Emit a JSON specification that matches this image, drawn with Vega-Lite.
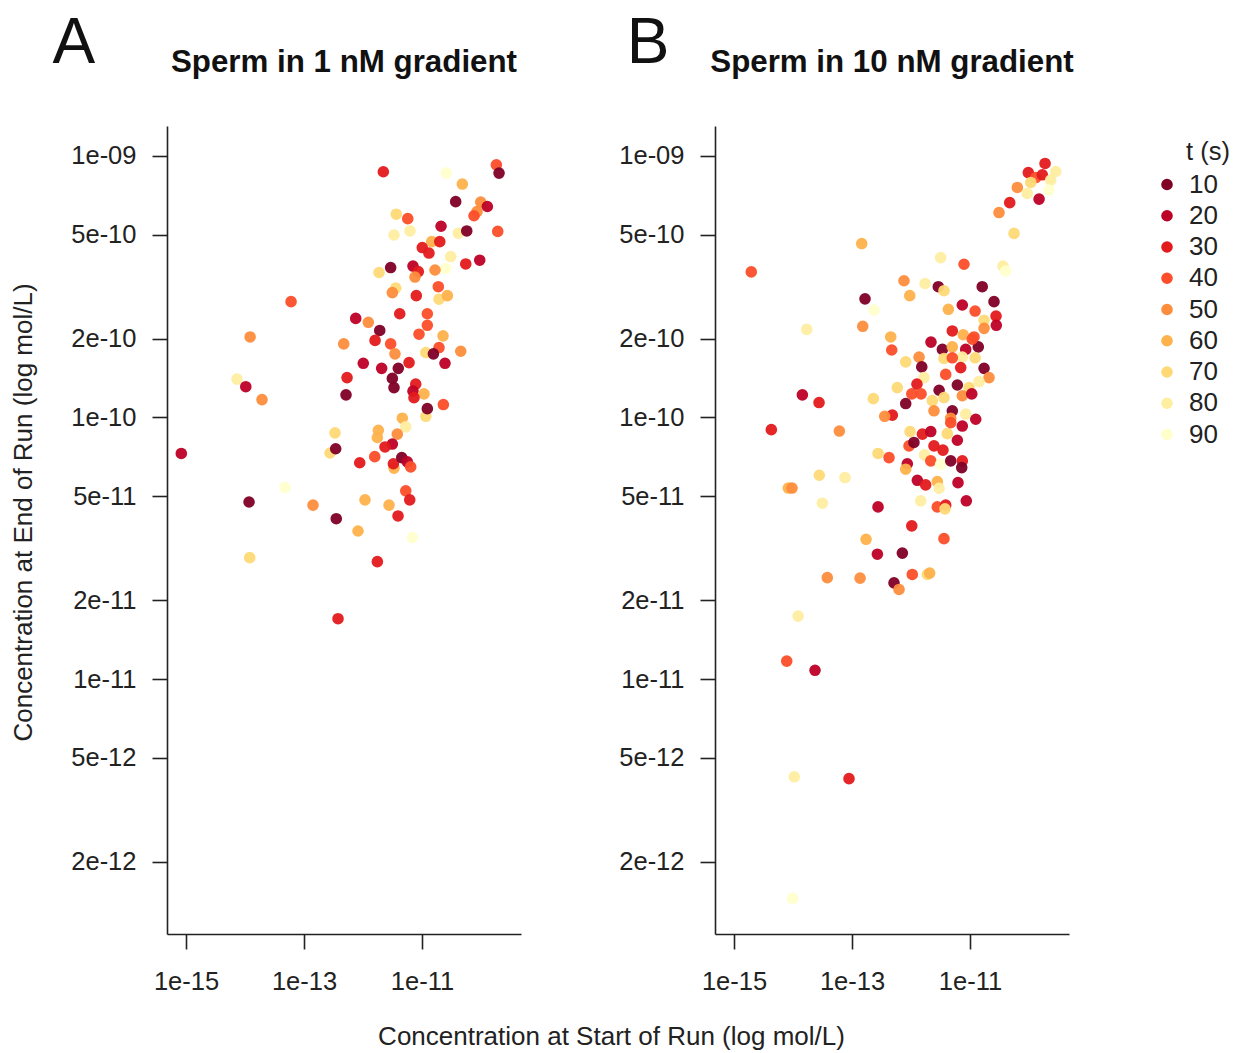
{
  "$schema": "https://vega.github.io/schema/vega-lite/v6.json",
  "background": "white",
  "padding": {"left": 10, "top": 11, "right": 5, "bottom": 5},
  "config": {
    "font": "Liberation Sans",
    "view": {"stroke": null},
    "axis": {"domainColor": "#222", "domainWidth": 1.6, "tickColor": "#222", "tickWidth": 1.6, "tickSize": 15, "labelColor": "#222", "titleColor": "#222", "labelFontSize": 25.5, "titleFontSize": 26, "titleFontWeight": "normal", "grid": false, "labelFlush": false, "labelOverlap": false},
    "title": {"fontSize": 31.3, "fontWeight": "bold", "color": "#111"}
  },
  "datasets": {
    "pts": [
      {"panel":"A","start":6.03e-14,"end":2.77e-10,"t":40},
      {"panel":"A","start":1.22e-14,"end":2.03e-10,"t":50},
      {"panel":"A","start":4.71e-13,"end":1.91e-10,"t":50},
      {"panel":"A","start":7.31e-15,"end":1.40e-10,"t":80},
      {"panel":"A","start":1.03e-14,"end":1.31e-10,"t":20},
      {"panel":"A","start":1.94e-14,"end":1.17e-10,"t":50},
      {"panel":"A","start":5.36e-13,"end":1.42e-10,"t":30},
      {"panel":"A","start":5.15e-13,"end":1.22e-10,"t":10},
      {"panel":"A","start":8.32e-16,"end":7.28e-11,"t":20},
      {"panel":"A","start":3.35e-13,"end":8.73e-11,"t":70},
      {"panel":"A","start":2.76e-13,"end":7.31e-11,"t":70},
      {"panel":"A","start":3.44e-13,"end":7.59e-11,"t":10},
      {"panel":"A","start":4.76e-14,"end":5.40e-11,"t":90},
      {"panel":"A","start":1.17e-14,"end":4.75e-11,"t":10},
      {"panel":"A","start":1.42e-13,"end":4.62e-11,"t":50},
      {"panel":"A","start":3.52e-13,"end":4.10e-11,"t":10},
      {"panel":"A","start":1.20e-14,"end":2.91e-11,"t":70},
      {"panel":"A","start":3.77e-13,"end":1.70e-11,"t":30},
      {"panel":"A","start":2.21e-12,"end":8.69e-10,"t":30},
      {"panel":"A","start":2.58e-11,"end":8.59e-10,"t":90},
      {"panel":"A","start":4.82e-11,"end":7.80e-10,"t":60},
      {"panel":"A","start":1.82e-10,"end":9.24e-10,"t":40},
      {"panel":"A","start":2.02e-10,"end":8.59e-10,"t":10},
      {"panel":"A","start":3.72e-11,"end":6.68e-10,"t":10},
      {"panel":"A","start":9.89e-11,"end":6.65e-10,"t":50},
      {"panel":"A","start":1.28e-10,"end":6.40e-10,"t":20},
      {"panel":"A","start":8.55e-11,"end":6.12e-10,"t":50},
      {"panel":"A","start":7.60e-11,"end":5.90e-10,"t":40},
      {"panel":"A","start":3.66e-12,"end":5.98e-10,"t":70},
      {"panel":"A","start":5.73e-12,"end":5.75e-10,"t":40},
      {"panel":"A","start":2.10e-11,"end":5.38e-10,"t":20},
      {"panel":"A","start":1.92e-10,"end":5.14e-10,"t":40},
      {"panel":"A","start":3.35e-12,"end":4.98e-10,"t":80},
      {"panel":"A","start":6.26e-12,"end":5.16e-10,"t":80},
      {"panel":"A","start":4.12e-11,"end":5.06e-10,"t":80},
      {"panel":"A","start":5.73e-11,"end":5.16e-10,"t":10},
      {"panel":"A","start":1.46e-11,"end":4.70e-10,"t":60},
      {"panel":"A","start":2.00e-11,"end":4.70e-10,"t":30},
      {"panel":"A","start":1.01e-11,"end":4.46e-10,"t":30},
      {"panel":"A","start":1.31e-11,"end":4.25e-10,"t":30},
      {"panel":"A","start":3.06e-11,"end":4.12e-10,"t":80},
      {"panel":"A","start":2.52e-11,"end":3.71e-10,"t":90},
      {"panel":"A","start":5.51e-11,"end":3.86e-10,"t":30},
      {"panel":"A","start":9.51e-11,"end":3.99e-10,"t":20},
      {"panel":"A","start":1.87e-12,"end":3.58e-10,"t":70},
      {"panel":"A","start":2.94e-12,"end":3.74e-10,"t":10},
      {"panel":"A","start":7.03e-12,"end":3.79e-10,"t":20},
      {"panel":"A","start":8.65e-12,"end":3.61e-10,"t":30},
      {"panel":"A","start":7.60e-12,"end":3.44e-10,"t":50},
      {"panel":"A","start":1.66e-11,"end":3.66e-10,"t":50},
      {"panel":"A","start":1.89e-11,"end":3.16e-10,"t":40},
      {"panel":"A","start":3.58e-12,"end":3.12e-10,"t":70},
      {"panel":"A","start":3.14e-12,"end":3.00e-10,"t":50},
      {"panel":"A","start":8.00e-12,"end":2.92e-10,"t":30},
      {"panel":"A","start":1.94e-11,"end":2.83e-10,"t":70},
      {"panel":"A","start":2.69e-11,"end":2.92e-10,"t":60},
      {"panel":"A","start":4.19e-12,"end":2.49e-10,"t":30},
      {"panel":"A","start":1.23e-11,"end":2.49e-10,"t":40},
      {"panel":"A","start":7.52e-13,"end":2.39e-10,"t":20},
      {"panel":"A","start":1.23e-12,"end":2.31e-10,"t":50},
      {"panel":"A","start":1.92e-12,"end":2.15e-10,"t":10},
      {"panel":"A","start":1.60e-12,"end":1.97e-10,"t":30},
      {"panel":"A","start":1.23e-11,"end":2.25e-10,"t":40},
      {"panel":"A","start":8.89e-12,"end":2.08e-10,"t":40},
      {"panel":"A","start":2.94e-12,"end":1.91e-10,"t":40},
      {"panel":"A","start":3.48e-12,"end":1.75e-10,"t":50},
      {"panel":"A","start":2.27e-11,"end":2.05e-10,"t":60},
      {"panel":"A","start":1.94e-11,"end":1.85e-10,"t":40},
      {"panel":"A","start":1.16e-11,"end":1.77e-10,"t":70},
      {"panel":"A","start":1.56e-11,"end":1.75e-10,"t":10},
      {"panel":"A","start":4.53e-11,"end":1.79e-10,"t":50},
      {"panel":"A","start":2.45e-11,"end":1.61e-10,"t":20},
      {"panel":"A","start":6.03e-12,"end":1.62e-10,"t":30},
      {"panel":"A","start":3.96e-12,"end":1.54e-10,"t":10},
      {"panel":"A","start":1.01e-12,"end":1.61e-10,"t":20},
      {"panel":"A","start":2.07e-12,"end":1.54e-10,"t":20},
      {"panel":"A","start":3.14e-12,"end":1.41e-10,"t":10},
      {"panel":"A","start":3.35e-12,"end":1.30e-10,"t":10},
      {"panel":"A","start":7.82e-12,"end":1.34e-10,"t":30},
      {"panel":"A","start":7.03e-12,"end":1.26e-10,"t":20},
      {"panel":"A","start":1.08e-11,"end":1.23e-10,"t":60},
      {"panel":"A","start":7.31e-12,"end":1.19e-10,"t":30},
      {"panel":"A","start":2.30e-11,"end":1.12e-10,"t":40},
      {"panel":"A","start":1.16e-11,"end":1.01e-10,"t":70},
      {"panel":"A","start":1.23e-11,"end":1.08e-10,"t":10},
      {"panel":"A","start":4.63e-12,"end":9.93e-11,"t":60},
      {"panel":"A","start":5.30e-12,"end":9.20e-11,"t":80},
      {"panel":"A","start":1.82e-12,"end":8.93e-11,"t":60},
      {"panel":"A","start":1.75e-12,"end":8.38e-11,"t":60},
      {"panel":"A","start":3.81e-12,"end":8.63e-11,"t":50},
      {"panel":"A","start":3.14e-12,"end":7.91e-11,"t":20},
      {"panel":"A","start":2.36e-12,"end":7.71e-11,"t":30},
      {"panel":"A","start":1.58e-12,"end":7.08e-11,"t":40},
      {"panel":"A","start":8.79e-13,"end":6.71e-11,"t":30},
      {"panel":"A","start":3.35e-12,"end":6.40e-11,"t":60},
      {"panel":"A","start":3.27e-12,"end":6.65e-11,"t":30},
      {"panel":"A","start":4.53e-12,"end":7.02e-11,"t":10},
      {"panel":"A","start":5.64e-12,"end":6.76e-11,"t":20},
      {"panel":"A","start":6.43e-12,"end":6.47e-11,"t":40},
      {"panel":"A","start":5.30e-12,"end":5.24e-11,"t":40},
      {"panel":"A","start":6.19e-12,"end":4.84e-11,"t":30},
      {"panel":"A","start":1.08e-12,"end":4.84e-11,"t":60},
      {"panel":"A","start":2.76e-12,"end":4.62e-11,"t":60},
      {"panel":"A","start":3.92e-12,"end":4.20e-11,"t":30},
      {"panel":"A","start":8.22e-13,"end":3.68e-11,"t":60},
      {"panel":"A","start":6.85e-12,"end":3.47e-11,"t":90},
      {"panel":"A","start":1.75e-12,"end":2.81e-11,"t":30},
      {"panel":"B","start":1.46e-13,"end":4.62e-10,"t":60},
      {"panel":"B","start":1.96e-15,"end":3.60e-10,"t":40},
      {"panel":"B","start":1.66e-13,"end":2.84e-10,"t":10},
      {"panel":"B","start":2.36e-13,"end":2.57e-10,"t":90},
      {"panel":"B","start":1.52e-13,"end":2.23e-10,"t":50},
      {"panel":"B","start":1.71e-14,"end":2.17e-10,"t":80},
      {"panel":"B","start":1.44e-14,"end":1.22e-10,"t":20},
      {"panel":"B","start":2.76e-14,"end":1.14e-10,"t":30},
      {"panel":"B","start":4.29e-15,"end":8.98e-11,"t":30},
      {"panel":"B","start":6.10e-14,"end":8.87e-11,"t":50},
      {"panel":"B","start":2.30e-13,"end":1.18e-10,"t":70},
      {"panel":"B","start":2.76e-13,"end":7.28e-11,"t":70},
      {"panel":"B","start":2.79e-14,"end":6.01e-11,"t":70},
      {"panel":"B","start":7.60e-14,"end":5.89e-11,"t":80},
      {"panel":"B","start":8.32e-15,"end":5.37e-11,"t":60},
      {"panel":"B","start":9.62e-15,"end":5.37e-11,"t":50},
      {"panel":"B","start":3.14e-14,"end":4.70e-11,"t":80},
      {"panel":"B","start":2.76e-13,"end":4.55e-11,"t":20},
      {"panel":"B","start":1.73e-13,"end":3.42e-11,"t":60},
      {"panel":"B","start":2.69e-13,"end":3.00e-11,"t":20},
      {"panel":"B","start":3.81e-14,"end":2.44e-11,"t":50},
      {"panel":"B","start":1.37e-13,"end":2.43e-11,"t":50},
      {"panel":"B","start":1.22e-14,"end":1.74e-11,"t":80},
      {"panel":"B","start":7.82e-15,"end":1.17e-11,"t":40},
      {"panel":"B","start":2.36e-14,"end":1.08e-11,"t":20},
      {"panel":"B","start":1.05e-14,"end":4.23e-12,"t":80},
      {"panel":"B","start":8.89e-14,"end":4.16e-12,"t":30},
      {"panel":"B","start":9.89e-15,"end":1.45e-12,"t":90},
      {"panel":"B","start":7.60e-13,"end":3.33e-10,"t":50},
      {"panel":"B","start":1.73e-12,"end":3.25e-10,"t":80},
      {"panel":"B","start":9.51e-13,"end":2.92e-10,"t":60},
      {"panel":"B","start":4.53e-13,"end":2.03e-10,"t":60},
      {"panel":"B","start":4.71e-13,"end":1.81e-10,"t":40},
      {"panel":"B","start":8.13e-13,"end":1.63e-10,"t":70},
      {"panel":"B","start":1.37e-12,"end":1.70e-10,"t":50},
      {"panel":"B","start":1.52e-12,"end":1.56e-10,"t":10},
      {"panel":"B","start":2.18e-12,"end":1.94e-10,"t":20},
      {"panel":"B","start":5.86e-13,"end":1.30e-10,"t":70},
      {"panel":"B","start":1.03e-12,"end":1.23e-10,"t":40},
      {"panel":"B","start":8.13e-13,"end":1.13e-10,"t":10},
      {"panel":"B","start":4.82e-13,"end":1.02e-10,"t":30},
      {"panel":"B","start":3.58e-13,"end":1.01e-10,"t":50},
      {"panel":"B","start":1.66e-12,"end":1.42e-10,"t":80},
      {"panel":"B","start":1.26e-12,"end":1.34e-10,"t":30},
      {"panel":"B","start":1.48e-12,"end":1.23e-10,"t":40},
      {"panel":"B","start":3.18e-12,"end":4.08e-10,"t":80},
      {"panel":"B","start":7.91e-12,"end":3.85e-10,"t":40},
      {"panel":"B","start":2.90e-12,"end":3.16e-10,"t":10},
      {"panel":"B","start":3.62e-12,"end":3.05e-10,"t":70},
      {"panel":"B","start":1.61e-11,"end":3.16e-10,"t":10},
      {"panel":"B","start":2.55e-11,"end":2.77e-10,"t":10},
      {"panel":"B","start":4.29e-12,"end":2.59e-10,"t":60},
      {"panel":"B","start":7.40e-12,"end":2.69e-10,"t":20},
      {"panel":"B","start":1.22e-11,"end":2.55e-10,"t":40},
      {"panel":"B","start":1.73e-11,"end":2.35e-10,"t":70},
      {"panel":"B","start":2.76e-11,"end":2.44e-10,"t":30},
      {"panel":"B","start":2.79e-11,"end":2.25e-10,"t":20},
      {"panel":"B","start":1.73e-11,"end":2.19e-10,"t":50},
      {"panel":"B","start":5.01e-12,"end":2.14e-10,"t":30},
      {"panel":"B","start":7.69e-12,"end":2.07e-10,"t":60},
      {"panel":"B","start":1.17e-11,"end":2.03e-10,"t":40},
      {"panel":"B","start":3.40e-12,"end":1.82e-10,"t":10},
      {"panel":"B","start":5.01e-12,"end":1.86e-10,"t":60},
      {"panel":"B","start":8.45e-12,"end":1.82e-10,"t":20},
      {"panel":"B","start":1.38e-11,"end":1.86e-10,"t":10},
      {"panel":"B","start":1.09e-11,"end":1.99e-10,"t":40},
      {"panel":"B","start":3.62e-12,"end":1.68e-10,"t":70},
      {"panel":"B","start":7.40e-12,"end":1.70e-10,"t":80},
      {"panel":"B","start":1.22e-11,"end":1.69e-10,"t":70},
      {"panel":"B","start":5.01e-12,"end":1.69e-10,"t":40},
      {"panel":"B","start":6.95e-12,"end":1.55e-10,"t":30},
      {"panel":"B","start":1.73e-11,"end":1.54e-10,"t":10},
      {"panel":"B","start":2.10e-11,"end":1.42e-10,"t":50},
      {"panel":"B","start":1.42e-11,"end":1.37e-10,"t":80},
      {"panel":"B","start":3.87e-12,"end":1.46e-10,"t":40},
      {"panel":"B","start":6.10e-12,"end":1.33e-10,"t":10},
      {"panel":"B","start":9.62e-12,"end":1.30e-10,"t":70},
      {"panel":"B","start":2.99e-12,"end":1.27e-10,"t":10},
      {"panel":"B","start":3.62e-12,"end":1.19e-10,"t":70},
      {"panel":"B","start":2.30e-12,"end":1.16e-10,"t":70},
      {"panel":"B","start":7.40e-12,"end":1.21e-10,"t":50},
      {"panel":"B","start":1.07e-11,"end":1.23e-10,"t":20},
      {"panel":"B","start":2.45e-12,"end":1.06e-10,"t":50},
      {"panel":"B","start":5.01e-12,"end":1.06e-10,"t":10},
      {"panel":"B","start":8.45e-12,"end":1.03e-10,"t":80},
      {"panel":"B","start":1.25e-11,"end":9.84e-11,"t":20},
      {"panel":"B","start":4.71e-12,"end":9.93e-11,"t":50},
      {"panel":"B","start":1.87e-10,"end":9.35e-10,"t":30},
      {"panel":"B","start":2.84e-10,"end":8.71e-10,"t":80},
      {"panel":"B","start":9.73e-11,"end":8.63e-10,"t":30},
      {"panel":"B","start":1.30e-10,"end":8.26e-10,"t":40},
      {"panel":"B","start":1.68e-10,"end":8.46e-10,"t":30},
      {"panel":"B","start":2.33e-10,"end":8.07e-10,"t":80},
      {"panel":"B","start":6.34e-11,"end":7.57e-10,"t":50},
      {"panel":"B","start":9.35e-11,"end":7.18e-10,"t":80},
      {"panel":"B","start":1.48e-10,"end":6.83e-10,"t":20},
      {"panel":"B","start":2.18e-10,"end":7.40e-10,"t":90},
      {"panel":"B","start":1.07e-10,"end":7.91e-10,"t":70},
      {"panel":"B","start":4.71e-11,"end":6.62e-10,"t":30},
      {"panel":"B","start":3.10e-11,"end":6.07e-10,"t":50},
      {"panel":"B","start":5.57e-11,"end":5.05e-10,"t":70},
      {"panel":"B","start":3.62e-11,"end":3.79e-10,"t":80},
      {"panel":"B","start":4.03e-11,"end":3.63e-10,"t":90},
      {"panel":"B","start":9.62e-13,"end":8.83e-11,"t":70},
      {"panel":"B","start":1.56e-12,"end":8.63e-11,"t":30},
      {"panel":"B","start":9.25e-13,"end":7.78e-11,"t":40},
      {"panel":"B","start":1.12e-12,"end":8.02e-11,"t":10},
      {"panel":"B","start":4.24e-13,"end":7.02e-11,"t":40},
      {"panel":"B","start":8.65e-13,"end":6.65e-11,"t":20},
      {"panel":"B","start":8.13e-13,"end":6.34e-11,"t":60},
      {"panel":"B","start":1.69e-12,"end":7.19e-11,"t":80},
      {"panel":"B","start":1.28e-12,"end":5.75e-11,"t":20},
      {"panel":"B","start":1.77e-12,"end":5.52e-11,"t":30},
      {"panel":"B","start":1.46e-12,"end":4.80e-11,"t":80},
      {"panel":"B","start":1.03e-12,"end":3.85e-11,"t":30},
      {"panel":"B","start":7.13e-13,"end":3.03e-11,"t":10},
      {"panel":"B","start":1.05e-12,"end":2.51e-11,"t":40},
      {"panel":"B","start":5.15e-13,"end":2.33e-11,"t":10},
      {"panel":"B","start":6.26e-13,"end":2.20e-11,"t":50},
      {"panel":"B","start":1.89e-12,"end":2.51e-11,"t":70},
      {"panel":"B","start":4.71e-12,"end":9.55e-11,"t":40},
      {"panel":"B","start":7.40e-12,"end":9.27e-11,"t":20},
      {"panel":"B","start":4.12e-12,"end":8.67e-11,"t":70},
      {"panel":"B","start":6.10e-12,"end":8.18e-11,"t":20},
      {"panel":"B","start":2.16e-12,"end":8.83e-11,"t":20},
      {"panel":"B","start":2.45e-12,"end":7.78e-11,"t":30},
      {"panel":"B","start":3.48e-12,"end":7.50e-11,"t":30},
      {"panel":"B","start":2.16e-12,"end":6.82e-11,"t":40},
      {"panel":"B","start":3.18e-12,"end":6.62e-11,"t":90},
      {"panel":"B","start":4.71e-12,"end":6.82e-11,"t":10},
      {"panel":"B","start":7.40e-12,"end":6.82e-11,"t":30},
      {"panel":"B","start":7.23e-12,"end":6.43e-11,"t":10},
      {"panel":"B","start":2.79e-12,"end":5.68e-11,"t":60},
      {"panel":"B","start":2.99e-12,"end":5.36e-11,"t":80},
      {"panel":"B","start":6.26e-12,"end":5.63e-11,"t":20},
      {"panel":"B","start":8.65e-12,"end":4.80e-11,"t":20},
      {"panel":"B","start":2.79e-12,"end":4.55e-11,"t":40},
      {"panel":"B","start":3.87e-12,"end":4.62e-11,"t":30},
      {"panel":"B","start":3.77e-12,"end":4.47e-11,"t":70},
      {"panel":"B","start":3.62e-12,"end":3.44e-11,"t":40},
      {"panel":"B","start":2.07e-12,"end":2.54e-11,"t":60}
    ]
  },
  "spacing": 194,
  "bounds": "flush",
  "resolve": {"scale": {"color": "shared"}},
  "hconcat": [
    {
      "width": 354,
      "height": 808,
      "title": {"text": "Sperm in 1 nM gradient", "frame": "group", "anchor": "middle", "baseline": "alphabetic", "offset": -92},
      "layer": [
        {
          "data": {"name": "pts"},
          "transform": [{"filter": "datum.panel === 'A'"}],
          "mark": {"type": "circle", "size": 135, "opacity": 0.95},
          "encoding": {
            "x": {"field": "start", "type": "quantitative",
              "scale": {"type": "log", "domain": [4.76e-16, 4.76e-10], "nice": false, "zero": false},
              "axis": {"values": [1e-15, 1e-13, 1e-11], "labelExpr": "format(datum.value, '.0e')", "labelPadding": 20,
                "title": "Concentration at Start of Run (log mol/L)", "titleX": 444, "titleY": 110, "titleBaseline": "alphabetic", "titleAnchor": "middle", "titleAlign": "center"}},
            "y": {"field": "end", "type": "quantitative",
              "scale": {"type": "log", "domain": [1.06e-12, 1.30e-9], "nice": false, "zero": false},
              "axis": {"values": [1e-9, 5e-10, 2e-10, 1e-10, 5e-11, 2e-11, 1e-11, 5e-12, 2e-12], "labelExpr": "datum.value > 9e-10 ? '1e-09' : format(datum.value, '.0e')", "labelPadding": 16,
                "title": "Concentration at End of Run (log mol/L)", "titleX": -144, "titleY": 386, "titleAngle": 270, "titleBaseline": "middle", "titleAlign": "center"}},
            "color": {"field": "t", "type": "ordinal",
              "scale": {"domain": [10, 20, 30, 40, 50, 60, 70, 80, 90], "range": ["#800026", "#BD0026", "#E31A1C", "#FC4E2A", "#FD8D3C", "#FEB24C", "#FED976", "#FFEDA0", "#FFFFCC"]},
              "legend": {"title": "t (s)", "orient": "none", "legendX": 987, "legendY": 14, "padding": 0, "titleFontSize": 25.5, "titleFontWeight": "normal", "titleColor": "#222", "titleAnchor": "middle", "titleAlign": "left", "titlePadding": 6, "labelFontSize": 26, "labelColor": "#222", "labelOffset": 9, "rowPadding": 5.25, "symbolType": "circle", "symbolSize": 135, "symbolStrokeWidth": 0, "symbolOpacity": 1}}
          }
        },
        {
          "data": {"values": [{"label": "A"}]},
          "mark": {"type": "text", "fontSize": 64, "align": "center", "baseline": "alphabetic", "color": "#111"},
          "encoding": {
            "x": {"datum": 1.26e-17, "type": "quantitative"},
            "y": {"datum": 2.27e-9, "type": "quantitative"},
            "text": {"field": "label"}
          }
        }
      ]
    },
    {
      "width": 354,
      "height": 808,
      "title": {"text": "Sperm in 10 nM gradient", "frame": "group", "anchor": "middle", "baseline": "alphabetic", "offset": -92},
      "layer": [
        {
          "data": {"name": "pts"},
          "transform": [{"filter": "datum.panel === 'B'"}],
          "mark": {"type": "circle", "size": 135, "opacity": 0.95},
          "encoding": {
            "x": {"field": "start", "type": "quantitative",
              "scale": {"type": "log", "domain": [4.76e-16, 4.76e-10], "nice": false, "zero": false},
              "axis": {"values": [1e-15, 1e-13, 1e-11], "labelExpr": "format(datum.value, '.0e')", "labelPadding": 20, "title": null}},
            "y": {"field": "end", "type": "quantitative",
              "scale": {"type": "log", "domain": [1.06e-12, 1.30e-9], "nice": false, "zero": false},
              "axis": {"values": [1e-9, 5e-10, 2e-10, 1e-10, 5e-11, 2e-11, 1e-11, 5e-12, 2e-12], "labelExpr": "datum.value > 9e-10 ? '1e-09' : format(datum.value, '.0e')", "labelPadding": 16, "title": null}},
            "color": {"field": "t", "type": "ordinal",
              "scale": {"domain": [10, 20, 30, 40, 50, 60, 70, 80, 90], "range": ["#800026", "#BD0026", "#E31A1C", "#FC4E2A", "#FD8D3C", "#FEB24C", "#FED976", "#FFEDA0", "#FFFFCC"]},
              "legend": {"title": "t (s)", "orient": "none", "legendX": 987, "legendY": 14, "padding": 0, "titleFontSize": 25.5, "titleFontWeight": "normal", "titleColor": "#222", "titleAnchor": "middle", "titleAlign": "left", "titlePadding": 6, "labelFontSize": 26, "labelColor": "#222", "labelOffset": 9, "rowPadding": 5.25, "symbolType": "circle", "symbolSize": 135, "symbolStrokeWidth": 0, "symbolOpacity": 1}}
          }
        },
        {
          "data": {"values": [{"label": "B"}]},
          "mark": {"type": "text", "fontSize": 64, "align": "center", "baseline": "alphabetic", "color": "#111"},
          "encoding": {
            "x": {"datum": 3.48e-17, "type": "quantitative"},
            "y": {"datum": 2.27e-9, "type": "quantitative"},
            "text": {"field": "label"}
          }
        }
      ]
    }
  ]
}
